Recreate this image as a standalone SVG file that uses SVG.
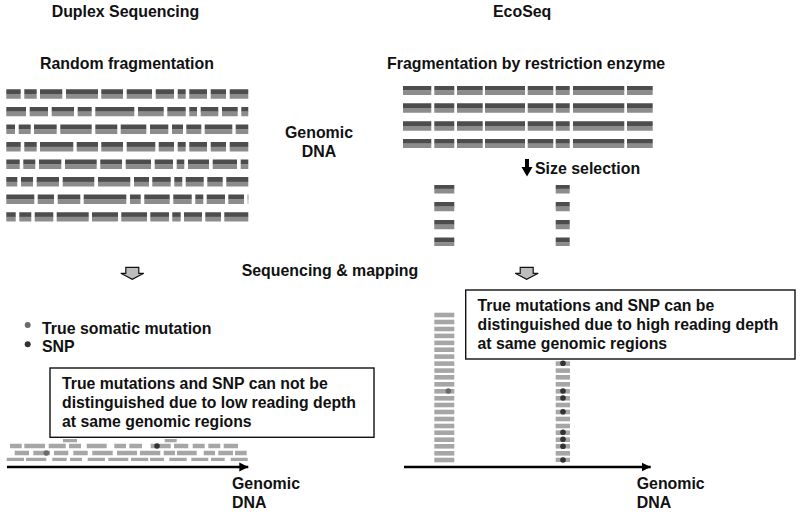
<svg xmlns="http://www.w3.org/2000/svg" width="800" height="514" viewBox="0 0 800 514">
<style>
text{font-family:"Liberation Sans",Arial,sans-serif;font-weight:bold;font-size:15.9px;fill:#111}
.bx text{font-size:15.8px}
.d,.l,.s{fill:none}
.d{stroke:#4d4d4d;stroke-width:4.8}
.l{stroke:#8c8c8c;stroke-width:4.8}
.s{stroke:#a6a6a6;stroke-width:4.6}
.bars{filter:url(#soft)}
.box{fill:#fff;stroke:#111;stroke-width:1.4}
.gd{fill:#6a6a6a}
.bd{fill:#333}
.ga{fill:#bdbdbd;stroke:#111;stroke-width:1.2}
.ax{stroke:#000;stroke-width:2.300;fill:none}
</style>
<defs>
<filter id="soft" x="-2%" y="-2%" width="104%" height="104%"><feGaussianBlur stdDeviation="0.35"/></filter>
<path id="r1" d="M6.3 0H20.7M24.3 0H36.7M40 0H62.3M66 0H98M101.3 0H123M126.7 0H152M155.7 0H174M177.7 0H185.7M189.3 0H207M210.7 0H226M229.7 0H248.3"/>
<path id="r2" d="M6.3 0H26M29.7 0H48M51.7 0H74M77.7 0H91.7M95.3 0H134.3M138 0H163.7M167.3 0H185.7M189.3 0H197M200.7 0H218.3M222 0H237.7M241.3 0H248.3"/>
<path id="r3" d="M6.3 0H15M18.7 0H30.7M34 0H56.7M60.3 0H91.7M95.3 0H117.3M120.7 0H146.3M150 0H168.3M172 0H183M186.3 0H201.3M204.7 0H232.3M235.7 0H248.3"/>
<path id="r4" d="M6.3 0H20.7M24.3 0H36.7M40 0H73.3M76.7 0H98M101.3 0H123M126.7 0H155.3M158.7 0H174M177.7 0H185.7M189.3 0H207M210.7 0H226M229.7 0H248.3"/>
<path id="r5" d="M6.3 0H19.7M23.3 0H35.3M39 0H61.3M65 0H96.7M100.3 0H122M125.7 0H151M154.7 0H173M176.7 0H184.3M188 0H209M212.7 0H237M240.7 0H248.3"/>
<path id="r6" d="M6.3 0H17.3M21 0H33M36.7 0H59M62.7 0H94.3M98 0H130.3M134 0H149M152.3 0H170.7M174.3 0H182.3M185.7 0H203.7M207.3 0H222.7M226.3 0H248.3"/>
<path id="r7" d="M6.3 0H34.3M37.7 0H54M57.7 0H80.3M83.7 0H126.3M130 0H140.7M144.3 0H169.7M173.3 0H191.7M195.3 0H203.3M206.7 0H225M228.3 0H244M247.7 0H248.3"/>
<path id="r8" d="M6.3 0H15.7M19.3 0H31.3M34.7 0H53.3M56.7 0H88.7M92 0H118M121.3 0H147M150.3 0H169M172.3 0H180.7M184 0H202M205.3 0H221M224.3 0H248.3"/>
<path id="e" d="M403 0H431.3M434.3 0H454.3M457 0H482.7M485 0H525M527.7 0H553.3M555.7 0H569.7M573 0H624.3M627 0H652.7"/>
<path id="sel" d="M434.3 0H454.3M555.7 0H569.7"/>
<path id="st" d="M434.3 0H454.3"/>
<path id="st2" d="M555.7 0H570"/>
<marker id="ah" markerUnits="userSpaceOnUse" markerWidth="10" markerHeight="10" refX="9" refY="5" orient="auto"><path d="M0 .5L9 5L0 9.5z" fill="#000"/></marker>
<path id="gar" class="ga" d="M-6.500 0H6.500V6H11.500L0 12L-11.500 6H-6.500z"/>
</defs>

<g id="fragments-left" class="bars">
<use href="#r1" y="91.700" class="d"/><use href="#r1" y="96.300" class="l"/>
<use href="#r2" y="109.300" class="d"/><use href="#r2" y="113.900" class="l"/>
<use href="#r3" y="127" class="d"/><use href="#r3" y="131.600" class="l"/>
<use href="#r4" y="144.500" class="d"/><use href="#r4" y="149.100" class="l"/>
<use href="#r5" y="162" class="d"/><use href="#r5" y="166.600" class="l"/>
<use href="#r6" y="179.500" class="d"/><use href="#r6" y="184.100" class="l"/>
<use href="#r7" y="197" class="d"/><use href="#r7" y="201.600" class="l"/>
<use href="#r8" y="214.600" class="d"/><use href="#r8" y="219.200" class="l"/>
</g>

<g id="fragments-right" class="bars">
<use href="#e" y="88" class="d"/><use href="#e" y="92.600" class="l"/>
<use href="#e" y="105.700" class="d"/><use href="#e" y="110.300" class="l"/>
<use href="#e" y="123.700" class="d"/><use href="#e" y="128.300" class="l"/>
<use href="#e" y="141.400" class="d"/><use href="#e" y="146" class="l"/>
</g>

<g id="size-selected" class="bars">
<use href="#sel" y="186.600" class="d"/><use href="#sel" y="191.200" class="l"/>
<use href="#sel" y="204.300" class="d"/><use href="#sel" y="208.900" class="l"/>
<use href="#sel" y="222.300" class="d"/><use href="#sel" y="226.900" class="l"/>
<use href="#sel" y="240" class="d"/><use href="#sel" y="244.600" class="l"/>
</g>

<g id="reads-left" class="bars">
<path class="s" d="M63 439.900H77M164.700 439.900H176.700"/>
<path class="s" d="M10 446H21.700M24.300 446H45M48.700 446H65.700M69 446H81M86.700 446H106.700M114.300 446H126M129.300 446H142M150.700 446H170.700M174 446H188.300M192.700 446H204.700M208.300 446H220.300M223.700 446H238"/>
<path class="s" d="M14.700 453H29M33.300 453H50M54 453H68.300M73.300 453H87.700M92.300 453H112.700M117 453H137M140 453H160.300M163.700 453H175M177 453H196.700M203.700 453H215M218.300 453H233M235 453H246.700"/>
<path class="s" d="M6.700 460H24M26 460H46.300M52.300 460H66.700M70 460H82M87.700 460H105M108.300 460H128.300M131 460H148.300M150 460H164M169.300 460H186.700M191.300 460H208.300M211 460H224.700M230.700 460H247.700"/>
</g>

<g id="stack-left" class="bars">
<use href="#st" y="315" class="s"/><use href="#st" y="322" class="s"/><use href="#st" y="329" class="s"/><use href="#st" y="335.900" class="s"/><use href="#st" y="342.900" class="s"/><use href="#st" y="349.700" class="s"/><use href="#st" y="356.600" class="s"/><use href="#st" y="363.600" class="s"/><use href="#st" y="370.600" class="s"/><use href="#st" y="377.300" class="s"/><use href="#st" y="384.300" class="s"/><use href="#st" y="391.300" class="s"/><use href="#st" y="398.300" class="s"/><use href="#st" y="405" class="s"/><use href="#st" y="412" class="s"/><use href="#st" y="419" class="s"/><use href="#st" y="426" class="s"/><use href="#st" y="432.700" class="s"/><use href="#st" y="439.700" class="s"/><use href="#st" y="446.300" class="s"/><use href="#st" y="453.300" class="s"/><use href="#st" y="460" class="s"/>
</g>

<g id="stack-right" class="bars">
<use href="#st2" y="363.600" class="s"/><use href="#st2" y="370.600" class="s"/><use href="#st2" y="377.300" class="s"/><use href="#st2" y="384.300" class="s"/><use href="#st2" y="391.300" class="s"/><use href="#st2" y="398.300" class="s"/><use href="#st2" y="405" class="s"/><use href="#st2" y="412" class="s"/><use href="#st2" y="419" class="s"/><use href="#st2" y="426" class="s"/><use href="#st2" y="432.700" class="s"/><use href="#st2" y="439.700" class="s"/><use href="#st2" y="446.300" class="s"/><use href="#st2" y="453.300" class="s"/><use href="#st2" y="460" class="s"/>
</g>

<g id="mutations">
<circle class="gd" cx="27.700" cy="325" r="3"/>
<circle class="bd" cx="27.700" cy="344.300" r="3"/>
<circle class="gd" cx="46.300" cy="453" r="2.800"/>
<circle class="bd" cx="157" cy="446" r="2.800"/>
<circle class="gd" cx="448.300" cy="391" r="2.800"/>
<circle class="bd" cx="563" cy="363.300" r="2.800"/>
<circle class="bd" cx="563" cy="391" r="2.800"/>
<circle class="bd" cx="563" cy="398" r="2.800"/>
<circle class="bd" cx="563" cy="411.700" r="2.800"/>
<circle class="bd" cx="563" cy="432.300" r="2.800"/>
<circle class="bd" cx="563" cy="439.300" r="2.800"/>
<circle class="bd" cx="563" cy="446.300" r="2.800"/>
<circle class="bd" cx="563" cy="460" r="2.800"/>
</g>

<g id="connectors">
<use href="#gar" x="132.300" y="267.300"/>
<use href="#gar" x="526.700" y="267.300"/>
<path d="M525 159H529V167H532.500L527 176.500L521.500 167H525z" fill="#000"/>
<path class="ax" d="M7 467H248.300" marker-end="url(#ah)"/>
<path class="ax" d="M404 467H650.700" marker-end="url(#ah)"/>
</g>

<g id="box-left" class="bx">
<rect class="box" x="50" y="368" width="324" height="69.300"/>
<text x="62" y="389.300">True mutations and SNP can not be</text>
<text x="62" y="408.300">distinguished due to low reading depth</text>
<text x="62" y="427">at same genomic regions</text>
</g>
<g id="box-right" class="bx">
<rect class="box" x="465.700" y="290" width="329.300" height="69"/>
<text x="477.500" y="311">True mutations and SNP can be</text>
<text x="477.500" y="330">distinguished due to high reading depth</text>
<text x="477.500" y="348.700">at same genomic regions</text>
</g>

<g id="labels">
<text x="51.700" y="17">Duplex Sequencing</text>
<text x="493" y="17">EcoSeq</text>
<text x="40" y="68.500">Random fragmentation</text>
<text x="387" y="68.500">Fragmentation by restriction enzyme</text>
<text x="285" y="138">Genomic</text>
<text x="301.700" y="157">DNA</text>
<text x="535" y="174">Size selection</text>
<text x="241.700" y="275.700">Sequencing &amp; mapping</text>
<text x="42" y="334">True somatic mutation</text>
<text x="42" y="352">SNP</text>
<text x="232" y="489.300">Genomic</text>
<text x="232" y="508.300">DNA</text>
<text x="636.700" y="489.300">Genomic</text>
<text x="636.700" y="508.300">DNA</text>
</g>
</svg>
